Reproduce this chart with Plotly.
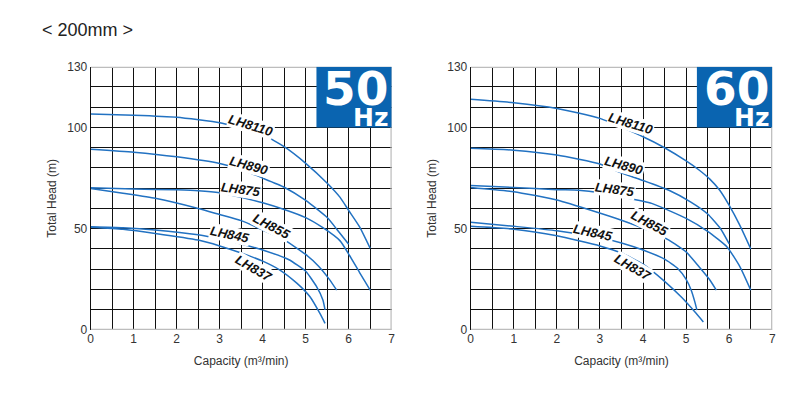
import plotly.graph_objects as go

# ---- data (capacity m3/min, total head m) ----
models = ["LH8110", "LH890", "LH875", "LH855", "LH845", "LH837"]

# 50 Hz
q50_8110 = [0, 1, 2, 3, 3.5, 4, 4.5, 5, 5.5, 5.8, 6, 6.25, 6.5]
h50_8110 = [106.6, 106, 105, 102.3, 99.5, 96.5, 90.5, 82.3, 72.5, 65.5, 59, 51, 40.3]
q50_890 = [0, 1, 2, 3, 3.5, 4, 4.5, 5, 5.5, 5.75, 6]
h50_890 = [89.3, 87.8, 85.5, 82.2, 79.2, 75, 70.5, 64, 55.5, 49, 42.3]
q50_875 = [0, 1, 2, 2.5, 3, 3.5, 4, 4.5, 5, 5.4, 5.8, 6, 6.25, 6.5]
h50_875 = [70.2, 69.6, 69.2, 68.8, 67.8, 65.5, 62.8, 59.5, 55.5, 50.5, 44, 37.5, 28.5, 19.7]
q50_855 = [0, 0.75, 1.5, 2.5, 3, 3.5, 4, 4.5, 5, 5.3, 5.55, 5.72]
h50_855 = [69.9, 67.5, 65, 60, 57, 54, 49.4, 44.5, 37.3, 31.5, 25, 19.7]
q50_845 = [0, 0.75, 1.5, 2.5, 3, 3.5, 4, 4.6, 5, 5.25, 5.4, 5.45]
h50_845 = [51, 50.5, 49.4, 47, 45, 42.5, 39.5, 34.8, 29, 21.5, 14.8, 9.9]
q50_837 = [0, 0.75, 1.5, 2.5, 3, 3.5, 4, 4.4, 4.8, 5.1, 5.33, 5.45]
h50_837 = [50.7, 49.7, 47.7, 44.4, 41.5, 38, 34, 29.6, 23, 16.4, 8.2, 3.3]

# 60 Hz
q60_8110 = [0, 1, 2, 3, 4, 4.5, 5, 5.3, 5.55, 5.78, 6, 6.25, 6.5]
h60_8110 = [113.9, 112.2, 109.4, 104.5, 95.4, 90, 83.5, 79, 74.5, 69, 61.5, 51.5, 40]
q60_890 = [0, 1, 2, 3, 3.5, 4, 4.6, 5.1, 5.5, 5.8, 6]
h60_890 = [89.7, 88.8, 86.4, 82, 77.5, 73.8, 69, 63.3, 57.3, 50, 42.5]
q60_875 = [0, 1, 2, 2.5, 3, 3.5, 4.2, 5, 5.5, 5.95, 6.25, 6.5]
h60_875 = [71.4, 70.4, 69.3, 69, 67.8, 65.7, 62.5, 55.1, 48.7, 41, 31.2, 19.7]
q60_855 = [0, 1, 2, 2.9, 3.5, 4.1, 4.6, 5, 5.3, 5.55, 5.7]
h60_855 = [70.4, 68.3, 64.2, 58.4, 54.2, 49.4, 44.4, 38.6, 31.2, 24.7, 19.7]
q60_845 = [0, 1, 2, 3, 3.5, 4, 4.5, 4.8, 5, 5.12, 5.2, 5.25]
h60_845 = [53.2, 51.2, 49, 45.5, 43, 39.5, 35, 30.5, 25, 19.5, 14, 9.9]
q60_837 = [0, 1, 2, 3, 3.5, 4, 4.5, 4.9, 5.2, 5.4]
h60_837 = [51.2, 49.8, 46.5, 41.5, 38, 32.5, 24, 16, 9, 4]

# label anchor points (capacity, head) and rotation
lab50_q = [3.73, 3.68, 3.5, 4.22, 3.24, 3.8]
lab50_h = [101.2, 81, 69.6, 51.3, 47.4, 30.6]
lab60_q = [3.72, 3.56, 3.35, 4.16, 2.83, 3.77]
lab60_h = [102.2, 81, 69.6, 52.8, 47.9, 31.1]
lab_angle = [17, 15, 8, 28, 12, 30]

x_ticks = [0, 1, 2, 3, 4, 5, 6, 7]
y_ticks = [0, 50, 100, 130]

curves50 = [(q50_8110, h50_8110), (q50_890, h50_890), (q50_875, h50_875),
            (q50_855, h50_855), (q50_845, h50_845), (q50_837, h50_837)]
curves60 = [(q60_8110, h60_8110), (q60_890, h60_890), (q60_875, h60_875),
            (q60_855, h60_855), (q60_845, h60_845), (q60_837, h60_837)]

BLUE = "#0a64b0"
CURVE = "#2272c2"
# page adds an 8px body margin, so the figure itself is a bit smaller
W, H = 769, 398
OFF = 8

fig = go.Figure()

for name, (q, h) in zip(models, curves50):
    fig.add_trace(go.Scatter(x=q, y=h, mode="lines", name=name, xaxis="x", yaxis="y",
                             line=dict(color=CURVE, width=1.5, shape="spline", smoothing=0.5),
                             showlegend=False))
for name, (q, h) in zip(models, curves60):
    fig.add_trace(go.Scatter(x=q, y=h, mode="lines", name=name, xaxis="x2", yaxis="y2",
                             line=dict(color=CURVE, width=1.5, shape="spline", smoothing=0.5),
                             showlegend=False))

# page pixel -> paper
def px(v):
    return (v - OFF) / W

def py(v):
    return 1 - (v - OFF) / H

dom1 = [px(90.7), px(391.7)]
dom2 = [px(470.7), px(772.3)]
ydom = [py(330), py(66.7)]

xcommon = dict(range=[0, 7], tickvals=x_ticks, showgrid=True, gridcolor="#111", gridwidth=1,
               minor=dict(dtick=0.5, tick0=0, showgrid=True, gridcolor="#111", gridwidth=1),
               zeroline=False, showline=False, ticks="", automargin=False,
               tickfont=dict(family="Liberation Sans", size=12, color="#333"),
               title=dict(text="Capacity (m³/min)", standoff=11,
                          font=dict(family="Liberation Sans", size=12, color="#333")))
ycommon = dict(range=[0, 130], tickvals=y_ticks, showgrid=True, gridcolor="#111", gridwidth=1,
               minor=dict(dtick=10, tick0=0, showgrid=True, gridcolor="#111", gridwidth=1),
               zeroline=False, showline=True, linecolor="#111", linewidth=1, ticks="",
               automargin=False,
               tickfont=dict(family="Liberation Sans", size=12, color="#333"),
               title=dict(text="Total Head (m)", standoff=8,
                          font=dict(family="Liberation Sans", size=12, color="#333")))

fig.update_layout(
    width=W, height=H,
    margin=dict(l=0, r=0, t=0, b=0, autoexpand=False),
    paper_bgcolor="white", plot_bgcolor="white",
    xaxis=dict(domain=dom1, anchor="y", **xcommon),
    yaxis=dict(domain=ydom, anchor="x", **ycommon),
    xaxis2=dict(domain=dom2, anchor="y2", **xcommon),
    yaxis2=dict(domain=ydom, anchor="x2", **ycommon),
)

shapes = []
annotations = []

for xr, yr, hz, ss in [("x", "y", "50", "3000"), ("x2", "y2", "60", "3600")]:
    # grey frame on top / right / bottom
    for x0, y0, x1, y1 in [(0, 130, 7, 130), (7, 0, 7, 130), (0, 0, 7, 0)]:
        shapes.append(dict(type="line", xref=xr, yref=yr, x0=x0, y0=y0, x1=x1, y1=y1,
                           line=dict(color="#bdbdbd", width=2.5)))
    # blue frequency badge
    shapes.append(dict(type="rect", xref=xr, yref=yr, x0=5.25, x1=7, y0=100, y1=130,
                       fillcolor=BLUE, line=dict(width=0), layer="above"))
    annotations.append(dict(xref=xr, yref=yr, x=6.97, y=119.4, text="<b>" + hz + "</b>",
                            showarrow=False, xanchor="right", yanchor="middle",
                            font=dict(family="DejaVu Sans", size=47, color="white")))
    annotations.append(dict(xref=xr, yref=yr, x=6.96, y=105.0, text="<b>Hz</b>",
                            showarrow=False, xanchor="right", yanchor="middle",
                            font=dict(family="DejaVu Sans", size=25, color="white")))
    annotations.append(dict(xref=xr, yref=yr, x=7, y=131, text="S.S. " + ss + "min<sup>-1</sup>",
                            showarrow=False, xanchor="right", yanchor="bottom",
                            font=dict(family="Liberation Sans", size=10, color="#333")))

for xr, yr, lq, lh in [("x", "y", lab50_q, lab50_h), ("x2", "y2", lab60_q, lab60_h)]:
    for name, q, h, a in zip(models, lq, lh, lab_angle):
        annotations.append(dict(xref=xr, yref=yr, x=q, y=h, text="<b><i>" + name + "</i></b>",
                                showarrow=False, textangle=a, bgcolor="white", borderpad=0,
                                font=dict(family="Liberation Sans", size=13, color="#111")))

annotations.append(dict(xref="paper", yref="paper", x=px(40), y=py(30), text="< 200mm >",
                        showarrow=False, xanchor="left", yanchor="middle",
                        font=dict(family="Liberation Sans", size=18, color="#222")))

fig.update_layout(shapes=shapes, annotations=annotations)

fig.write_html("out.html")
